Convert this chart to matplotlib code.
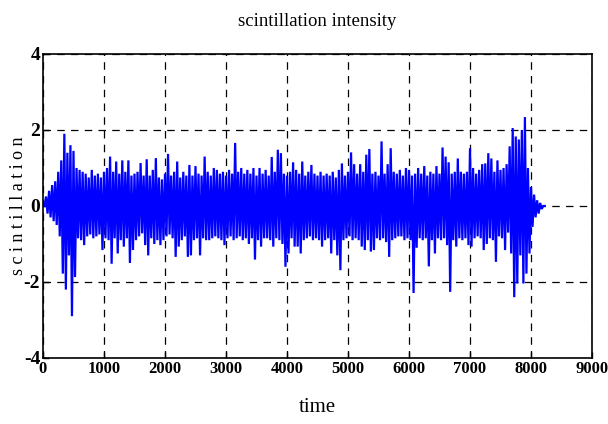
import numpy as np
import matplotlib
matplotlib.use("Agg")
import matplotlib.pyplot as plt

# Sampling step of the envelope series (time units)
step = 50

# Upper excursions of the scintillation signal, one value per step
upper = [
    0.0, 0.25, 0.4, 0.55, 0.65, 0.9, 1.2, 1.9, 1.4, 1.6,
    1.45, 1.0, 0.95, 0.9, 0.85, 0.75, 0.95, 0.8, 0.85, 0.75,
    0.9, 1.0, 1.3, 0.9, 1.17, 0.85, 1.2, 0.9, 1.2, 0.8,
    0.85, 0.9, 1.13, 0.8, 1.23, 0.8, 0.95, 1.26, 0.75, 0.7,
    0.85, 1.37, 0.8, 0.9, 1.17, 0.75, 0.9, 0.8, 1.08, 0.8,
    1.05, 0.85, 0.8, 1.3, 0.9, 0.8, 1.0, 0.95, 0.85, 0.9,
    0.8, 0.95, 0.85, 1.66, 0.9, 1.0, 0.85, 0.95, 0.85, 1.0,
    0.8, 1.0, 0.85, 0.95, 0.8, 1.29, 0.9, 1.48, 1.39, 0.85,
    0.8, 0.9, 1.15, 0.95, 0.85, 1.17, 0.8, 0.9, 1.08, 0.85,
    0.8, 0.9, 0.8, 0.85, 0.8, 0.9, 0.75, 0.95, 1.12, 0.8,
    0.9, 1.41, 1.1, 0.85, 1.1, 0.9, 1.35, 1.5, 0.85, 0.9,
    0.8, 1.7, 0.85, 1.1, 1.52, 0.9, 0.85, 0.95, 0.8, 1.0,
    0.95, 0.8, 0.85, 1.0, 0.85, 1.05, 0.8, 0.9, 0.85, 1.05,
    0.85, 1.54, 1.3, 1.15, 0.85, 0.9, 1.25, 0.9, 0.85, 0.9,
    1.52, 1.0, 0.85, 0.95, 1.1, 1.12, 1.39, 1.25, 0.9, 1.2,
    0.95, 1.0, 1.1, 1.57, 2.05, 1.83, 1.75, 2.0, 2.34, 1.0,
    0.5, 0.3, 0.15, 0.08, 0.0,
]

# Lower excursions of the scintillation signal, one value per step
lower = [
    0.0, -0.2, -0.3, -0.4, -0.5, -0.8, -1.78, -2.2, -1.3, -2.9,
    -1.87, -0.85, -0.9, -1.03, -0.8, -0.75, -0.85, -0.8, -0.75, -1.16,
    -0.85, -0.9, -1.52, -0.85, -1.25, -0.9, -1.07, -0.85, -1.5, -1.16,
    -0.9, -0.8, -0.72, -1.03, -1.3, -0.85, -1.0, -0.9, -1.03, -0.9,
    -0.8, -0.75, -0.85, -1.34, -1.07, -0.9, -0.8, -1.34, -1.3, -0.9,
    -0.85, -1.3, -0.85, -0.9, -0.9, -0.85, -0.8, -0.85, -0.9, -1.03,
    -0.85, -0.8, -0.9, -0.85, -0.8, -0.9, -0.85, -1.0, -0.85, -1.41,
    -0.9, -1.07, -0.85, -0.85, -0.9, -1.07, -0.85, -0.9, -1.0, -1.6,
    -1.25, -0.85, -1.07, -1.07, -1.25, -0.9, -0.85, -0.8, -0.9, -0.85,
    -0.9, -1.07, -0.9, -0.85, -1.25, -0.9, -1.3, -1.69, -0.9, -0.85,
    -0.8, -0.9, -0.85, -0.9, -1.07, -1.16, -0.9, -1.2, -1.16, -0.85,
    -0.9, -0.85, -0.95, -1.34, -0.9, -0.85, -0.8, -0.8, -0.9, -0.85,
    -0.9, -2.29, -1.1, -0.85, -0.9, -0.85, -1.59, -0.9, -1.25, -0.85,
    -0.9, -0.85, -1.03, -2.26, -0.9, -1.07, -0.85, -0.9, -0.85, -1.03,
    -1.07, -0.85, -0.8, -0.85, -1.16, -1.0, -0.85, -0.9, -1.47, -0.8,
    -0.85, -1.16, -0.7, -1.25, -2.4, -2.04, -1.3, -2.04, -1.78, -1.25,
    -0.55, -0.3, -0.2, -0.08, 0.0,
]

x_ticks = [0, 1000, 2000, 3000, 4000, 5000, 6000, 7000, 8000, 9000]
y_ticks = [-4, -2, 0, 2, 4]

# Interleave the upper and lower excursions into one oscillating trace
n = min(len(upper), len(lower))
t = np.arange(n) * step
time = np.empty(2 * n)
value = np.empty(2 * n)
time[0::2] = t
time[1::2] = t + step / 2
value[0::2] = upper[:n]
value[1::2] = lower[:n]

serif = ["Liberation Serif", "DejaVu Serif"]

fig = plt.figure(figsize=(6.08, 4.24), dpi=100)
ax = fig.add_axes([0.0707, 0.1557, 0.903, 0.717])

ax.plot(time, value, color="#0000ff", linewidth=1.6, solid_joinstyle="miter")

ax.set_xlim(0, 9000)
ax.set_ylim(-4, 4)
ax.set_xticks(x_ticks)
ax.set_yticks(y_ticks)
ax.set_xticklabels([str(v) for v in x_ticks], family=serif,
                   fontweight="bold", fontsize=12)
ax.set_yticklabels([str(v) for v in y_ticks], family=serif,
                   fontweight="bold", fontsize=14)
ax.tick_params(direction="in", length=4, width=1, pad=2,
               top=False, right=False)

ax.grid(True, color="black", linestyle=(0, (6, 5)), linewidth=0.9)
for s in ax.spines.values():
    s.set_linewidth(1.2)
    s.set_color("black")

ax.set_title("scintillation intensity", family=serif, fontsize=13.5, pad=20)
ax.set_xlabel("time", family=serif, fontsize=15, labelpad=15)
ax.set_ylabel("s c i n t i l l a t i o n", family=serif, fontsize=13)
ax.yaxis.set_label_coords(-0.03, 0.5)

fig.savefig("out.png", dpi=100)
